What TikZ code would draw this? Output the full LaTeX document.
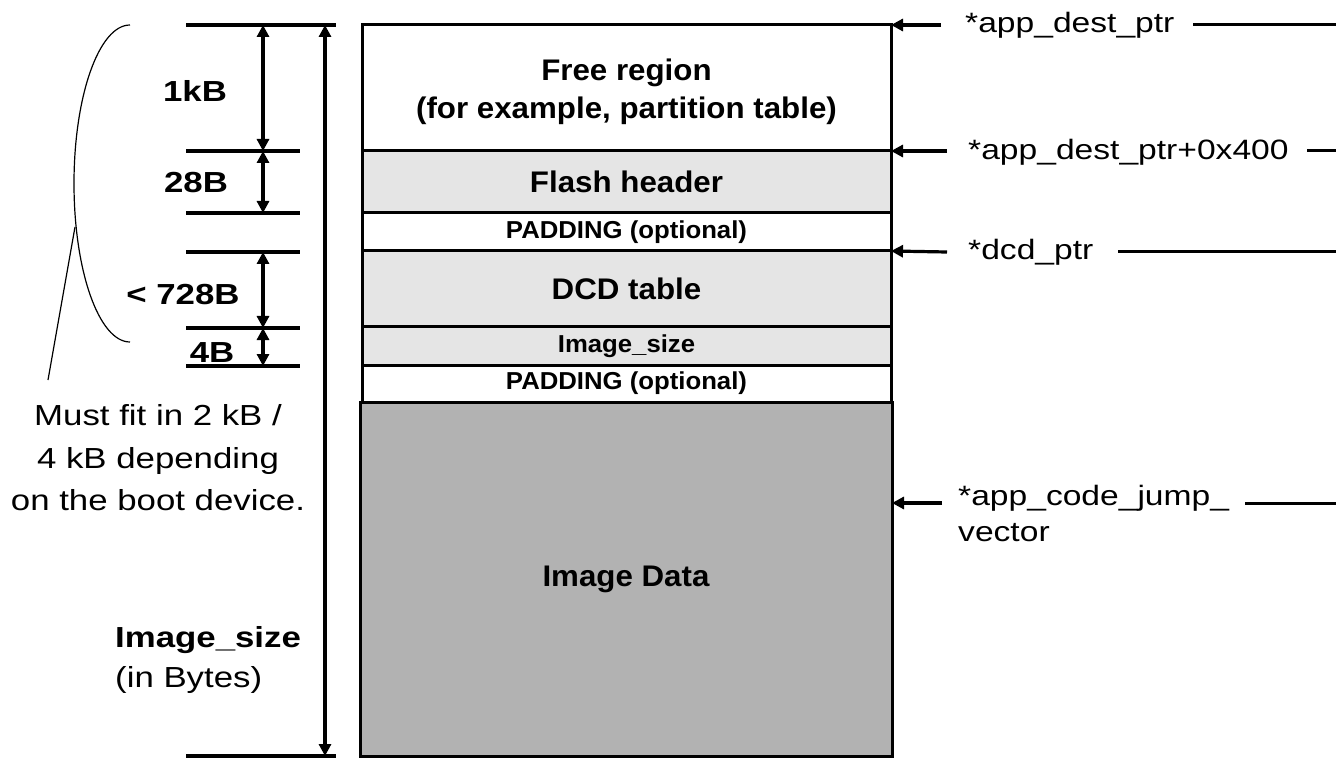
\documentclass[tikz,border=0pt]{standalone}
\usepackage{fontspec}
\setmainfont{Liberation Sans}
\newfontfamily\widefont[FakeStretch=1.2]{Liberation Sans}
\newfontfamily\boxfont[FakeStretch=1.05]{Liberation Sans}
\usetikzlibrary{arrows.meta}
\begin{document}
\begin{tikzpicture}[x=1pt,y=-1pt,
  seg/.style={draw=black, line width=3pt, inner sep=0pt, outer sep=0pt, anchor=north west,
    minimum width=529pt, align=center, font=\boxfont\fontsize{29.8}{38}\selectfont\bfseries},
  segtxt/.style={inner sep=0pt, align=center, font=\boxfont\fontsize{29.8}{38}\selectfont\bfseries},
  smalltxt/.style={font=\boxfont\fontsize{24.5}{28}\selectfont\bfseries},
  lightfill/.style={fill=black!10},
  darkfill/.style={fill=black!30},
  dimarrow/.style={line width=3.2pt, {Triangle[length=12pt,width=12pt]}-{Triangle[length=12pt,width=12pt]}},
  tickline/.style={line width=3.5pt},
  ptrarrow/.style={line width=3.2pt, -{Triangle[length=12pt,width=12pt]}},
  leadline/.style={line width=3pt},
  sizelbl/.style={font=\widefont\fontsize{29}{34}\selectfont\bfseries, inner sep=0pt, anchor=base},
  notelbl/.style={font=\widefont\fontsize{29}{34}\selectfont, inner sep=0pt},
  ptrlbl/.style={font=\widefont\fontsize{28}{34}\selectfont, inner sep=0pt, anchor=base west},
  thinline/.style={line width=1.2pt}
]
\useasboundingbox (0,0) rectangle (1336,759);

% memory layout
\node[seg, fill=white, minimum height=126pt] (free) at (362,25) {};
\node[segtxt] (freetxt) at ([yshift=-3.5pt]free.center) {Free region\\(for example, partition table)};
\node[seg, lightfill, minimum height=62pt] (flash) at (free.south west) {Flash header};
\node[seg, fill=white, smalltxt, minimum height=38pt] (pad1) at (flash.south west) {PADDING (optional)};
\node[seg, lightfill, minimum height=76pt] (dcd) at (pad1.south west) {DCD table};
\node[seg, lightfill, smalltxt, minimum height=38pt] (isz) at (dcd.south west) {Image\_size};
\node[seg, fill=white, smalltxt, minimum height=37pt] (pad2) at (isz.south west) {PADDING (optional)};
\node[seg, darkfill, minimum width=532pt, minimum height=354pt] (data) at (360,402) {Image Data};

% tick lines
\coordinate (t0a) at (186,25);  \coordinate (t0b) at (336,25);
\coordinate (t1a) at (186,151); \coordinate (t1b) at (300,151);
\coordinate (t2a) at (186,213); \coordinate (t2b) at (300,213);
\coordinate (t3a) at (186,252); \coordinate (t3b) at (300,252);
\coordinate (t4a) at (186,328); \coordinate (t4b) at (300,328);
\coordinate (t5a) at (186,366); \coordinate (t5b) at (300,366);
\coordinate (t6a) at (186,756); \coordinate (t6b) at (336,756);
\foreach \i in {0,...,6} {\draw[tickline] (t\i a) -- (t\i b);}

% dimension arrows
\coordinate (d0) at (263,25);
\coordinate (d1) at (263,151);
\coordinate (d2) at (263,213);
\coordinate (d3) at (263,252);
\coordinate (d4) at (263,328);
\coordinate (d5) at (263,366);
\draw[dimarrow] (d0) -- (d1);
\draw[dimarrow] (d1) -- (d2);
\draw[dimarrow] (d3) -- (d4);
\draw[dimarrow] (d4) -- (d5);
\coordinate (e0) at (325,25);
\coordinate (e1) at (325,756);
\draw[dimarrow] (e0) -- (e1);

% size labels
\node[sizelbl] (s1) at (195,102) {1kB};
\node[sizelbl] (s2) at (196,193) {28B};
\node[sizelbl] (s3) at (183,305) {< 728B};
\node[sizelbl] (s4) at (212,362) {4B};

% bracket and note
\coordinate (bt) at (130,25);
\coordinate (bm) at (74,183.5);
\coordinate (bb) at (130,342);
\draw[thinline] (bt) .. controls (99,25) and (74,96) .. (bm) .. controls (74,271) and (99,342) .. (bb);
\coordinate (lt) at (75,227);
\coordinate (lb) at (48,380);
\draw[thinline] (lt) -- (lb);
\node[notelbl, anchor=base] (n1) at (158,425) {Must fit in 2 kB /};
\node[notelbl, anchor=base] (n2) at (158,468) {4 kB depending};
\node[notelbl, anchor=base] (n3) at (158,510) {on the boot device.};

\node[notelbl, anchor=base west, font=\widefont\fontsize{29}{34}\selectfont\bfseries] (is1) at (115,647) {Image\_size};
\node[notelbl, anchor=base west] (is2) at (115,687) {(in Bytes)};

% pointers
\node[ptrlbl] (pl1) at (965,33) {*app\_dest\_ptr};
\node[ptrlbl] (pl2) at (968,160) {*app\_dest\_ptr+0x400};
\node[ptrlbl] (pl3) at (968,260) {*dcd\_ptr};
\node[ptrlbl] (pl4) at (958,505) {*app\_code\_jump\_};
\node[ptrlbl] (pl5) at (958,541) {vector};

\coordinate (pA) at (941,25);
\coordinate (pB) at (947,151);
\coordinate (pC) at (947,252);
\coordinate (pD) at (942,503);
\draw[ptrarrow] (pA) -- (free.north east);
\draw[ptrarrow] (pB) -- (flash.north east);
\draw[ptrarrow] (pC) -- (dcd.north east);
\draw[ptrarrow] (pD) -- (pD -| data.east);

\coordinate (qA) at (1193,25);  \coordinate (rA) at (1336,25);
\coordinate (qB) at (1307,151); \coordinate (rB) at (1336,151);
\coordinate (qC) at (1118,252); \coordinate (rC) at (1336,252);
\coordinate (qD) at (1245,503); \coordinate (rD) at (1336,503);
\draw[leadline] (qA) -- (rA);
\draw[leadline] (qB) -- (rB);
\draw[leadline] (qC) -- (rC);
\draw[leadline] (qD) -- (rD);
\end{tikzpicture}
\end{document}
